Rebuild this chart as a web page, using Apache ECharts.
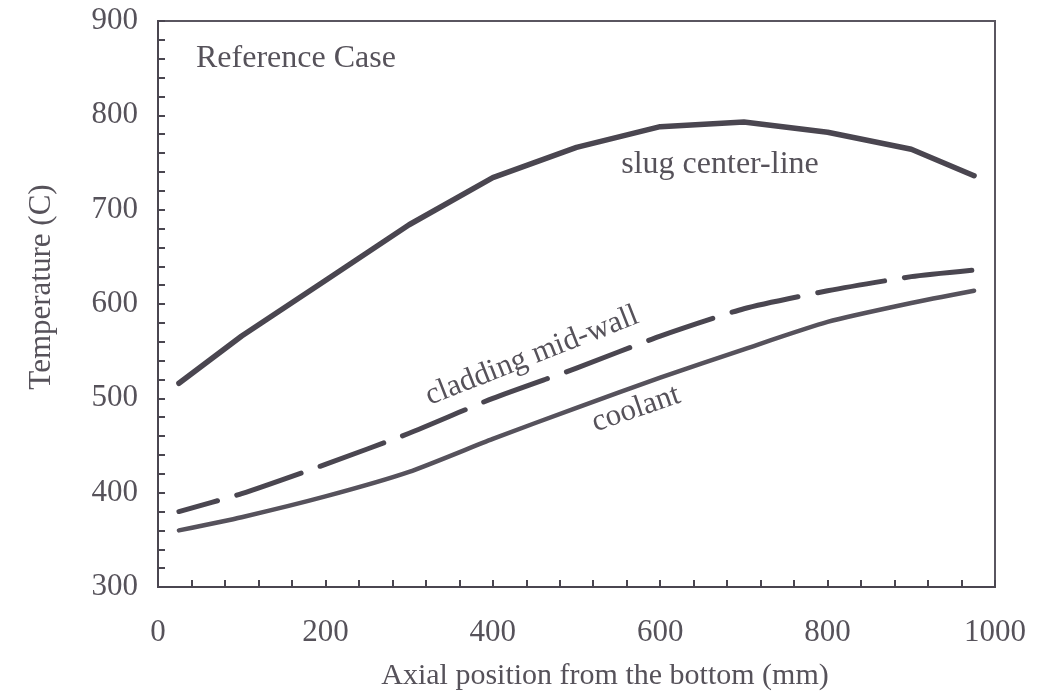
<!DOCTYPE html>
<html>
<head>
<meta charset="utf-8">
<script src="https://cdn.jsdelivr.net/npm/echarts@6/dist/echarts.min.js"></script>
<style>
html,body{margin:0;padding:0;background:#fff;}
#chart{width:1044px;height:696px;}
</style>
</head>
<body>
<div id="chart"></div>
<script>
var positions = [25, 100, 200, 300, 400, 500, 600, 700, 800, 900, 975];
var slugCenterLine = [516, 566, 625, 684, 734, 766, 788, 793, 782, 764, 736];
var claddingMidWall = [380, 399, 430, 463, 500, 532, 566, 595, 614, 629, 636];
var coolant = [360, 374, 396, 422, 457, 490, 522, 552, 581, 601, 614];
var xTicks = [0, 200, 400, 600, 800, 1000];
var yTicks = [300, 400, 500, 600, 700, 800, 900];

function pairs(ys) { return positions.map(function (x, i) { return [x, ys[i]]; }); }

var FONT = '"Liberation Serif", "DejaVu Serif", serif';
var TEXT = '#56525a';
var LINE = '#4a4650';

var chart = echarts.init(document.getElementById('chart'));
chart.setOption({
  animation: false,
  backgroundColor: '#ffffff',
  grid: { left: 158, right: 49, top: 21, bottom: 109, show: true, borderColor: '#5a5660', borderWidth: 2, containLabel: false },
  xAxis: {
    type: 'value', min: xTicks[0], max: xTicks[xTicks.length - 1], interval: 200,
    axisLine: { lineStyle: { color: '#4a4650', width: 2 } },
    axisTick: { inside: true, length: 7, lineStyle: { color: '#4a4650', width: 2 } },
    minorTick: { show: true, splitNumber: 5, length: 7, lineStyle: { color: '#4a4650', width: 2 } },
    axisLabel: { fontFamily: FONT, fontSize: 31, color: TEXT, margin: 30, formatter: function (v) { return String(v); } },
    splitLine: { show: false }
  },
  yAxis: {
    type: 'value', min: yTicks[0], max: yTicks[yTicks.length - 1], interval: 100,
    axisLine: { show: true, lineStyle: { color: '#4a4650', width: 2 } },
    axisTick: { show: true, inside: true, length: 7, lineStyle: { color: '#4a4650', width: 2 } },
    minorTick: { show: true, splitNumber: 5, length: 7, lineStyle: { color: '#4a4650', width: 2 } },
    axisLabel: { fontFamily: FONT, fontSize: 31, color: TEXT, margin: 20, formatter: function (v) { return String(v); } },
    splitLine: { show: false }
  },
  graphic: [
    { type: 'text', x: 605, y: 676,
      style: { text: 'Axial position from the bottom (mm)', font: '30px ' + FONT, fill: TEXT, textAlign: 'center', textVerticalAlign: 'middle' } },
    { type: 'text', x: 42, y: 287, rotation: Math.PI / 2,
      style: { text: 'Temperature (C)', font: '31px ' + FONT, fill: TEXT, textAlign: 'center', textVerticalAlign: 'middle' } },
    { type: 'text', x: 196, y: 59,
      style: { text: 'Reference Case', font: '32px ' + FONT, fill: TEXT, textAlign: 'left', textVerticalAlign: 'middle' } },
    { type: 'text', x: 720, y: 165,
      style: { text: 'slug center-line', font: '32px ' + FONT, fill: TEXT, textAlign: 'center', textVerticalAlign: 'middle' } },
    { type: 'text', x: 532, y: 356, rotation: 21.5 * Math.PI / 180,
      style: { text: 'cladding mid-wall', font: '31px ' + FONT, fill: TEXT, textAlign: 'center', textVerticalAlign: 'middle' } },
    { type: 'text', x: 636, y: 409, rotation: 19 * Math.PI / 180,
      style: { text: 'coolant', font: '31px ' + FONT, fill: TEXT, textAlign: 'center', textVerticalAlign: 'middle' } }
  ],
  series: [
    { name: 'slug center-line', type: 'line', data: pairs(slugCenterLine), showSymbol: false, symbol: 'none',
      lineStyle: { color: LINE, width: 5.5, cap: 'round', join: 'round' } },
    { name: 'cladding mid-wall', type: 'line', data: pairs(claddingMidWall), showSymbol: false, symbol: 'none', smooth: 0.2,
      lineStyle: { color: LINE, width: 5, type: [68, 20], dashOffset: 28, cap: 'round', join: 'round' } },
    { name: 'coolant', type: 'line', data: pairs(coolant), showSymbol: false, symbol: 'none', smooth: 0.2,
      lineStyle: { color: '#56525c', width: 4.5, cap: 'round', join: 'round' } }
  ]
});
</script>
</body>
</html>
